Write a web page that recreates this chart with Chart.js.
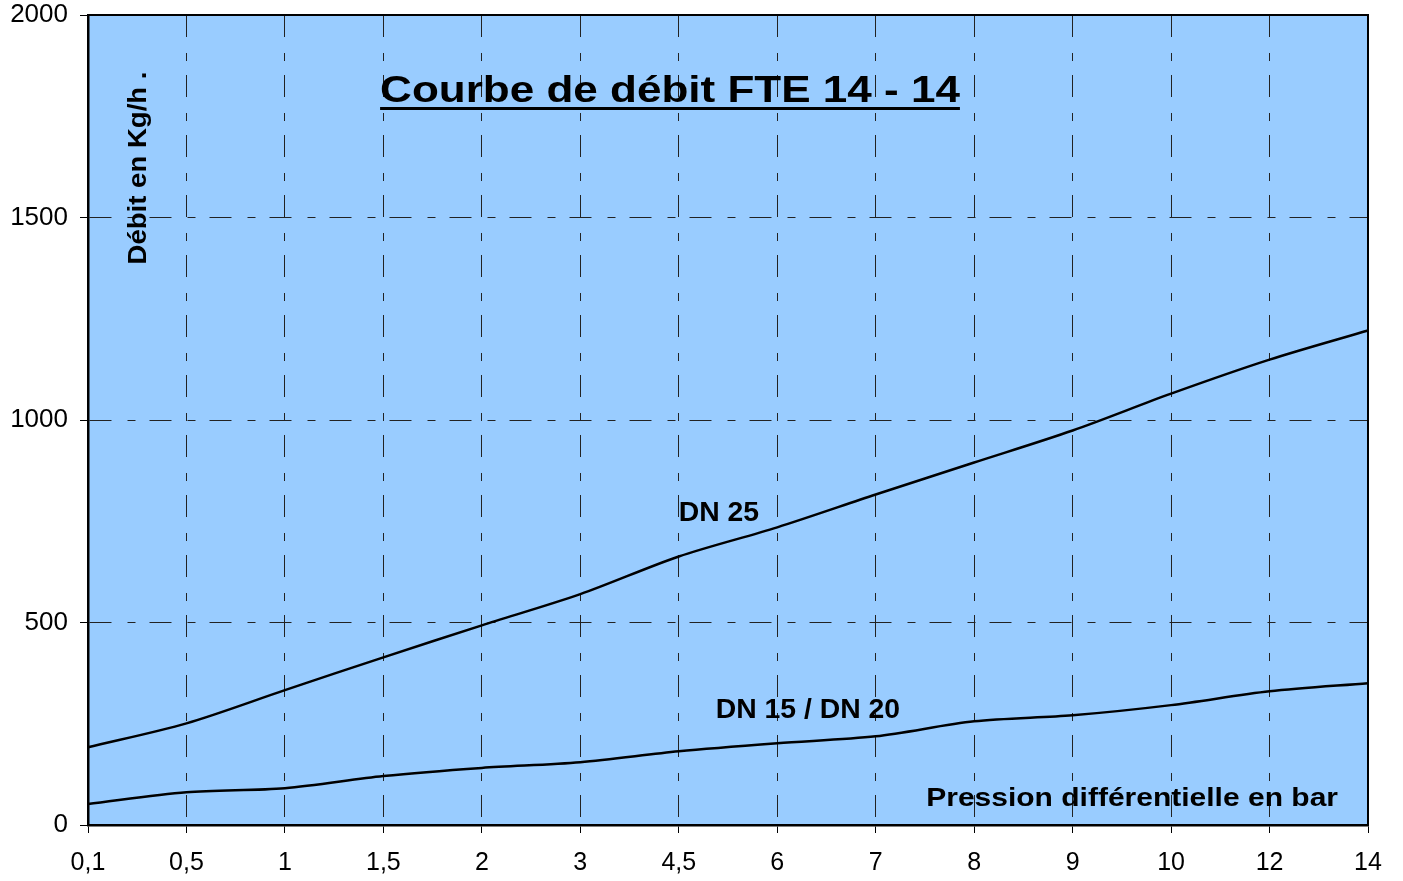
<!DOCTYPE html>
<html>
<head>
<meta charset="utf-8">
<script src="https://cdn.jsdelivr.net/npm/chart.js@4/dist/chart.umd.min.js"></script>
<style>
  html, body { margin: 0; padding: 0; background: #fff; }
  #wrap { width: 1403px; height: 881px; }
</style>
</head>
<body>
<div id="wrap"><canvas id="chart" width="1403" height="881"></canvas></div>
<script>
// pression différentielle (bar)
const pressions = ["0,1", "0,5", "1", "1,5", "2", "3", "4,5", "6", "7", "8", "9", "10", "12", "14"];
// débit en kg/h
const dn25 = [192, 251, 333, 414, 493, 570, 663, 735, 816, 895, 974, 1065, 1149, 1221];
const dn15_20 = [52, 81, 91, 121, 141, 155, 182, 202, 219, 256, 271, 296, 330, 350];
const yTicks = [0, 500, 1000, 1500, 2000];

const FONT = "'Liberation Sans', Arial, sans-serif";
const gridDash = [22, 16, 8, 14];

// plot background + frame
const plotFrame = {
  id: "plotFrame",
  beforeDraw(chart) {
    const { ctx, chartArea: a } = chart;
    ctx.save();
    ctx.fillStyle = "#99ccff";
    ctx.fillRect(a.left, a.top, a.right - a.left, a.bottom - a.top);
    ctx.restore();
  },
  afterDraw(chart) {
    const { ctx, chartArea: a } = chart;
    ctx.save();
    ctx.strokeStyle = "#000";
    ctx.lineWidth = 2;
    ctx.beginPath();
    ctx.moveTo(a.left, a.top);
    ctx.lineTo(a.right, a.top);
    ctx.lineTo(a.right, a.bottom);
    ctx.stroke();
    ctx.restore();
  }
};

// stretched text helper (the original uses a wider rendering of Arial)
function drawText(ctx, str, x, y, align, sx) {
  ctx.save();
  ctx.translate(x, y);
  ctx.scale(sx, 1);
  ctx.textAlign = align;
  ctx.fillText(str, 0, 0);
  const w = ctx.measureText(str).width * sx;
  ctx.restore();
  return w;
}

// texts written inside the plot
const plotTexts = {
  id: "plotTexts",
  afterDatasetsDraw(chart) {
    const { ctx, scales } = chart;
    const x = scales.x, y = scales.y;
    ctx.save();
    ctx.fillStyle = "#000";
    ctx.textBaseline = "alphabetic";

    // title, underlined
    ctx.font = "bold 37px " + FONT;
    const tx = 670, ty = 102;
    const w = drawText(ctx, "Courbe de débit FTE 14 - 14", tx, ty, "center", 1.19);
    ctx.fillRect(tx - w / 2, ty + 5, w, 3);

    // curve names
    ctx.font = "bold 27px " + FONT;
    drawText(ctx, "DN 25", x.getPixelForValue(6), y.getPixelForValue(750), "left", 1.05);
    drawText(ctx, "DN 15 / DN 20", x.getPixelForValue(6) + 37, y.getPixelForValue(264), "left", 1.05);

    // axis names
    ctx.font = "bold 25px " + FONT;
    drawText(ctx, "Pression différentielle en bar", 1338, 806, "right", 1.2);

    ctx.translate(146, 168);
    ctx.rotate(-Math.PI / 2);
    ctx.font = "bold 26px " + FONT;
    drawText(ctx, "Débit en Kg/h .", 0, 0, "center", 1.06);
    ctx.restore();
  }
};

const lineStyle = {
  borderColor: "#000",
  borderWidth: 2.5,
  pointRadius: 0,
  tension: 0.3,
  fill: false
};

new Chart(document.getElementById("chart"), {
  type: "line",
  data: {
    labels: pressions,
    datasets: [
      { label: "DN 25", data: dn25, ...lineStyle },
      { label: "DN 15 / DN 20", data: dn15_20, ...lineStyle }
    ]
  },
  options: {
    responsive: false,
    animation: false,
    layout: { padding: { left: 0, top: 15, right: 35, bottom: 0 } },
    plugins: {
      legend: { display: false },
      tooltip: { enabled: false }
    },
    scales: {
      x: {
        offset: false,
        afterFit: (s) => { s.height = 56; s.paddingLeft = 0; s.paddingRight = 0; },
        grid: {
          color: "#222",
          lineWidth: 1,
          tickLength: 8,
          tickColor: "#000",
          tickBorderDash: []
        },
        border: { color: "#000", width: 2.5, dash: gridDash },
        ticks: {
          color: "#000",
          padding: 15,
          maxRotation: 0,
          autoSkip: false,
          font: { family: FONT, size: 25 }
        }
      },
      y: {
        min: 0,
        max: 2000,
        afterFit: (s) => { s.width = 88; s.paddingTop = 0; s.paddingBottom = 0; },
        afterBuildTicks: (s) => { s.ticks = yTicks.map(v => ({ value: v })); },
        grid: {
          color: "#222",
          lineWidth: 1,
          tickLength: 8,
          tickColor: "#000",
          tickBorderDash: []
        },
        border: { color: "#000", width: 2.5, dash: gridDash },
        ticks: {
          color: "#000",
          padding: 12,
          callback: (v) => String(v),
          font: { family: FONT, size: 26 }
        }
      }
    }
  },
  plugins: [plotFrame, plotTexts]
});
</script>
</body>
</html>
